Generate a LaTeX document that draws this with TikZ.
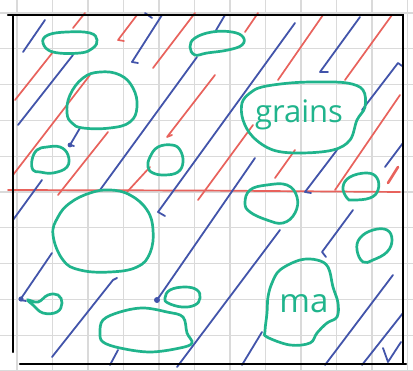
\documentclass[tikz,border=0pt]{standalone}
\usepackage{fontspec}
\setmainfont{Open Sans}
\definecolor{gr}{RGB}{32,180,140}
\definecolor{rd}{RGB}{232,98,92}
\definecolor{bl}{RGB}{66,84,170}
\definecolor{gridc}{RGB}{218,218,218}
\tikzset{
  gridline/.style={draw=gridc, line width=1.3pt},
  bline/.style={draw=bl, line width=1.8pt, line cap=round, line join=round},
  rline/.style={draw=rd, line width=1.7pt, line cap=round, line join=round},
  blob/.style={draw=gr, line width=2.7pt},
  border/.style={draw=black, line width=2.2pt, line cap=round},
  label/.style={text=gr, anchor=base, inner sep=0pt}
}
\begin{document}
\begin{tikzpicture}[x=1pt,y=-1pt]
\useasboundingbox[fill=white] (0,0) rectangle (413,371);
% graph paper
\foreach \i in {0,...,11} {\draw[gridline] ({17+35.5*\i},0) -- ++(0,371);}
\foreach \j in {0,...,10} {\draw[gridline] (0,{13+35.8*\j}) -- ++(413,0);}
% red lines
\draw[rline] (15,100) -- (53,52);
\draw[rline] (73,28) -- (85,13);
\draw[rline] (13,175) -- (90,75);
\draw[rline] (58,195) -- (108,132);
\draw[rline] (124,41) -- (118,40) -- (137,15);
\draw[rline] (153,68) -- (195,13);
\draw[rline] (172,135) -- (167,137) -- (215,75);
\draw[rline] (127,192) -- (150,167);
\draw[rline] (198,200) -- (253,125);
\draw[rline] (245,32) -- (258,13);
\draw[rline] (278,80) -- (323,15);
\draw[rline] (345,80) -- (392,15);
\draw[rline] (275,178) -- (295,150);
\draw[rline] (335,190) -- (400,95);
\draw[rline, line width=2.6pt] (388,183) -- (398,167);
\draw[rline] (8,190) -- (200,190.5) -- (400,192);
% blue lines
\draw[bline] (23,52) -- (45,20);
\draw[bline] (18,125) -- (73,55);
\draw[bline] (80,128) -- (70,145) -- (74,146);
\fill[bl] (70,145) circle (2.4pt);
\draw[bline] (138,63) -- (132,62) -- (162,15);
\draw[bline] (145,13) -- (152,18);
\draw[bline] (100,190) -- (197,57);
\draw[bline] (165,216) -- (158,212) -- (295,23);
\draw[bline] (215,32) -- (225,15);
\draw[bline] (328,72) -- (320,72) -- (360,17);
\draw[bline] (362,110) -- (398,63) -- (402,66);
\draw[bline] (13,220) -- (42,180);
\draw[bline] (52,253) -- (20,300) -- (26,301);
\fill[bl] (21,299) circle (2.6pt);
\draw[bline] (52,357) -- (113,280) -- (117,278);
\draw[bline] (110,365) -- (118,350);
\draw[bline] (255,158) -- (157,300);
\fill[bl] (157,300) circle (3pt);
\draw[bline] (177,367) -- (280,230);
\draw[bline] (311,193) -- (305,192) -- (337,150);
\draw[bline] (326,257) -- (322,252) -- (353,210);
\draw[bline] (385,167) -- (403,143);
\draw[bline] (242,365) -- (262,332);
\draw[bline] (325,365) -- (393,275);
\draw[bline] (362,365) -- (403,313);
\draw[bline] (383,348) -- (388,362) -- (401,342);
% border
\draw[border] (8,15) -- (403,15) -- (403,363);
\draw[border] (13,16) -- (13,352);
\draw[border] (20,364) -- (406,364);
% green blobs
\draw[blob] plot[smooth cycle, tension=0.7] coordinates {(43,43) (48,35) (67,32) (90,33) (97,40) (93,48) (80,53) (53,52)};
\draw[blob] plot[smooth cycle, tension=0.7] coordinates {(67,113) (70,95) (83,78) (100,72) (120,75) (133,88) (137,107) (130,122) (110,128) (83,128) (72,123)};
\draw[blob] plot[smooth cycle, tension=0.7] coordinates {(32,160) (37,150) (47,147) (60,147) (68,155) (67,167) (53,173) (40,172) (33,170)};
\draw[blob] plot[smooth cycle, tension=0.7] coordinates {(148,167) (150,157) (158,147) (172,145) (180,150) (183,162) (178,172) (165,175) (153,173)};
\draw[blob] plot[smooth cycle, tension=0.7] coordinates {(190,47) (195,38) (212,32) (232,32) (243,37) (242,45) (228,50) (207,53) (195,55)};
\draw[blob] plot[smooth cycle, tension=0.6] coordinates {(242,103) (250,93) (262,87) (290,83) (317,82) (347,83) (363,90) (365,107) (357,120) (350,140) (333,150) (300,153) (273,150) (253,137) (243,120)};
\draw[blob] plot[smooth cycle, tension=0.7] coordinates {(53,235) (58,217) (70,203) (90,193) (110,190) (130,195) (147,210) (153,230) (150,253) (137,267) (110,272) (80,270) (63,260)};
\draw[blob] plot[smooth cycle, tension=0.7] coordinates {(245,203) (250,190) (267,185) (287,185) (297,197) (295,213) (283,223) (267,220) (250,212)};
\draw[blob] plot[smooth cycle, tension=0.7] coordinates {(343,187) (350,177) (367,173) (377,178) (378,190) (370,198) (353,200) (347,198)};
\draw[blob] plot[smooth cycle, tension=0.7] coordinates {(357,250) (360,238) (373,230) (387,230) (392,240) (387,252) (373,260) (363,262)};
\draw[blob] plot[smooth cycle, tension=0.6] coordinates {(268,297) (272,283) (280,270) (300,260) (317,260) (328,267) (333,287) (338,303) (337,317) (327,323) (317,333) (310,343) (290,345) (267,337) (265,331) (267,313)};
\draw[blob] plot[smooth cycle, tension=0.7] coordinates {(28,300) (33,305) (43,313) (57,312) (62,303) (58,295) (48,295) (38,302)};
\draw[blob] plot[smooth cycle, tension=0.7] coordinates {(165,298) (170,290) (185,287) (197,290) (200,298) (195,305) (182,307) (168,303)};
\draw[blob] plot[smooth cycle, tension=0.6] coordinates {(100,333) (103,320) (120,312) (143,308) (167,312) (183,317) (187,333) (192,343) (180,348) (150,352) (120,348) (103,342)};
% labels
\node[label, font=\fontsize{31}{31}\selectfont] (grains) at (299,123) {grains};
\node[label, font=\fontsize{33}{33}\selectfont] (ma) at (304,313) {ma};
\end{tikzpicture}
\end{document}
